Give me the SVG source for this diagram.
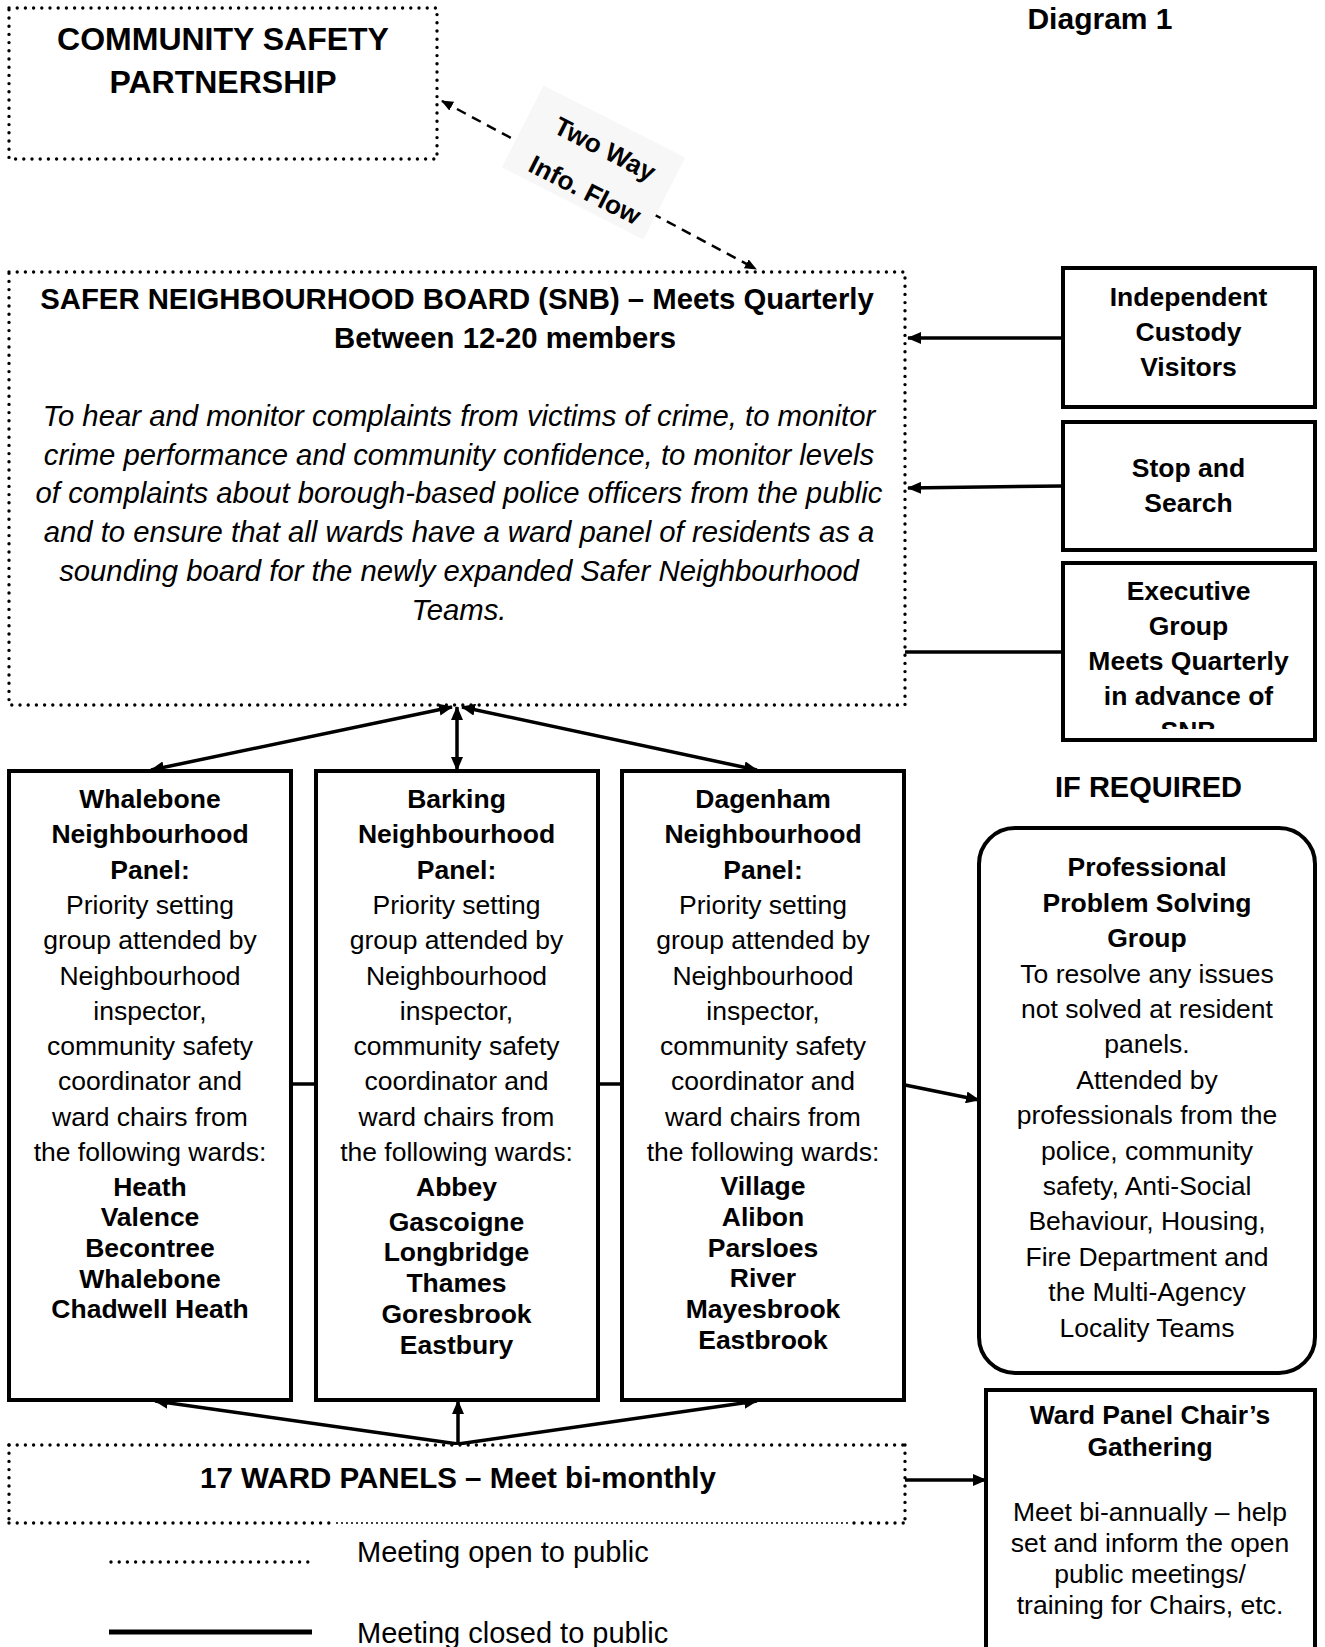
<svg xmlns="http://www.w3.org/2000/svg" width="1325" height="1647" viewBox="0 0 1325 1647">
<style>
.dot{fill:none;stroke:#000;stroke-width:3.4;stroke-linecap:round;stroke-dasharray:0 8.2}
.dotf{fill:none;stroke:#000;stroke-width:1.6;stroke-dasharray:2 3}
.box{fill:#fff;stroke:#000;stroke-width:4}
.bg{fill:#fff}
.conn{fill:none;stroke:#000;stroke-width:3.5}
.dash{fill:none;stroke:#000;stroke-width:2.5;stroke-dasharray:10 7}
text{font-family:"Liberation Sans",Arial,sans-serif;fill:#000}
.b{font-weight:bold}
.i{font-style:italic}
.p{font-size:26.5px;text-anchor:middle}
.h{font-size:29.3px;text-anchor:middle}
</style>
<defs>
<marker id="ah" viewBox="0 0 14 12" refX="13" refY="6" markerWidth="14" markerHeight="12" markerUnits="userSpaceOnUse" orient="auto-start-reverse">
<path d="M0,0 L14,6 L0,12 z" fill="#000"/>
</marker>
<marker id="ahs" viewBox="0 0 12 10" refX="11" refY="5" markerWidth="12" markerHeight="10" markerUnits="userSpaceOnUse" orient="auto-start-reverse">
<path d="M0,0 L12,5 L0,10 z" fill="#000"/>
</marker>
<clipPath id="execClip"><rect x="1063" y="563" width="252" height="166"/></clipPath>
</defs>
<rect width="1325" height="1647" fill="#fff"/>

<g id="connectors">
<line class="dash" x1="442" y1="101" x2="756" y2="269" marker-start="url(#ahs)" marker-end="url(#ahs)"/>
<line class="conn" x1="1063" y1="338" x2="908" y2="338" marker-end="url(#ah)"/>
<line class="conn" x1="1063" y1="486" x2="908" y2="488" marker-end="url(#ah)"/>
<line class="conn" x1="905" y1="652" x2="1063" y2="652"/>
<line class="conn" x1="452" y1="707" x2="151" y2="770" marker-start="url(#ah)" marker-end="url(#ah)"/>
<line class="conn" x1="457" y1="707" x2="457" y2="770" marker-start="url(#ah)" marker-end="url(#ah)"/>
<line class="conn" x1="462" y1="707" x2="757" y2="770" marker-start="url(#ah)" marker-end="url(#ah)"/>
<line class="conn" x1="291" y1="1084" x2="316" y2="1084"/>
<line class="conn" x1="597" y1="1084" x2="622" y2="1084"/>
<line class="conn" x1="905" y1="1085" x2="979" y2="1100" marker-end="url(#ah)"/>
<line class="conn" x1="458" y1="1444" x2="155" y2="1401" marker-end="url(#ah)"/>
<line class="conn" x1="458" y1="1444" x2="458" y2="1401" marker-end="url(#ah)"/>
<line class="conn" x1="458" y1="1444" x2="757" y2="1401" marker-end="url(#ah)"/>
<line class="conn" x1="905" y1="1480" x2="986" y2="1480" marker-end="url(#ah)"/>
</g>

<g id="flow-label">
<rect x="-79.5" y="-46" width="159" height="92" fill="#f7f7f7" transform="translate(593.5,162.5) rotate(27)"/>
<text class="b" font-size="26" text-anchor="middle" transform="translate(605,149) rotate(27)" y="9">Two Way</text>
<text class="b" font-size="26" text-anchor="middle" transform="translate(585,190) rotate(27)" y="9">Info. Flow</text>
</g>

<g id="diagram-title">
<text class="b" font-size="30" text-anchor="middle" x="1100" y="29">Diagram 1</text>
</g>

<g id="csp">
<rect class="dot" x="9" y="8" width="428" height="151"/>
<text class="b" font-size="32" text-anchor="middle" x="223" y="49.5">COMMUNITY SAFETY</text>
<text class="b" font-size="32" text-anchor="middle" x="223" y="92.5">PARTNERSHIP</text>
</g>

<g id="snb">
<rect class="dot" x="9" y="272" width="896" height="433"/>
<text class="b h" x="457" y="308.5">SAFER NEIGHBOURHOOD BOARD (SNB) – Meets Quarterly</text>
<text class="b h" x="505" y="347.5">Between 12-20 members</text>
<text class="i h" x="459" y="426">To hear and monitor complaints from victims of crime, to monitor</text>
<text class="i h" x="459" y="464.7">crime performance and community confidence, to monitor levels</text>
<text class="i h" x="459" y="503.4">of complaints about borough-based police officers from the public</text>
<text class="i h" x="459" y="542.1">and to ensure that all wards have a ward panel of residents as a</text>
<text class="i h" x="459" y="580.8">sounding board for the newly expanded Safer Neighbourhood</text>
<text class="i h" x="459" y="619.5">Teams.</text>
</g>

<g id="icv">
<rect class="box" x="1063" y="268" width="252" height="139"/>
<text class="b p" x="1188.5" y="305.5">Independent</text>
<text class="b p" x="1188.5" y="340.5">Custody</text>
<text class="b p" x="1188.5" y="375.5">Visitors</text>
</g>

<g id="stop-search">
<rect class="box" x="1063" y="422" width="252" height="128"/>
<text class="b p" x="1188.5" y="477">Stop and</text>
<text class="b p" x="1188.5" y="512">Search</text>
</g>

<g id="executive">
<rect class="box" x="1063" y="563" width="252" height="177"/>
<g clip-path="url(#execClip)">
<text class="b p" x="1188.5" y="599.5">Executive</text>
<text class="b p" x="1188.5" y="634.5">Group</text>
<text class="b p" x="1188.5" y="669.5">Meets Quarterly</text>
<text class="b p" x="1188.5" y="704.5">in advance of</text>
<text class="b p" x="1188.5" y="740">SNB</text>
</g>
</g>

<g id="whalebone">
<rect class="box" x="9" y="771" width="282" height="629"/>
<text class="b p" x="150" y="808">Whalebone</text>
<text class="b p" x="150" y="843.3">Neighbourhood</text>
<text class="b p" x="150" y="878.6">Panel:</text>
<text class="p" x="150" y="913.9">Priority setting</text>
<text class="p" x="150" y="949.2">group attended by</text>
<text class="p" x="150" y="984.5">Neighbourhood</text>
<text class="p" x="150" y="1019.8">inspector,</text>
<text class="p" x="150" y="1055.1">community safety</text>
<text class="p" x="150" y="1090.4">coordinator and</text>
<text class="p" x="150" y="1125.7">ward chairs from</text>
<text class="p" x="150" y="1161">the following wards:</text>
<text class="b p" x="150" y="1195.5">Heath</text>
<text class="b p" x="150" y="1226">Valence</text>
<text class="b p" x="150" y="1256.5">Becontree</text>
<text class="b p" x="150" y="1287.5">Whalebone</text>
<text class="b p" x="150" y="1318">Chadwell Heath</text>
</g>

<g id="barking">
<rect class="box" x="316" y="771" width="282" height="629"/>
<text class="b p" x="456.5" y="808">Barking</text>
<text class="b p" x="456.5" y="843.3">Neighbourhood</text>
<text class="b p" x="456.5" y="878.6">Panel:</text>
<text class="p" x="456.5" y="913.9">Priority setting</text>
<text class="p" x="456.5" y="949.2">group attended by</text>
<text class="p" x="456.5" y="984.5">Neighbourhood</text>
<text class="p" x="456.5" y="1019.8">inspector,</text>
<text class="p" x="456.5" y="1055.1">community safety</text>
<text class="p" x="456.5" y="1090.4">coordinator and</text>
<text class="p" x="456.5" y="1125.7">ward chairs from</text>
<text class="p" x="456.5" y="1161">the following wards:</text>
<text class="b p" x="456.5" y="1195.5">Abbey</text>
<text class="b p" x="456.5" y="1230.5">Gascoigne</text>
<text class="b p" x="456.5" y="1261">Longbridge</text>
<text class="b p" x="456.5" y="1291.5">Thames</text>
<text class="b p" x="456.5" y="1322.5">Goresbrook</text>
<text class="b p" x="456.5" y="1354">Eastbury</text>
</g>

<g id="dagenham">
<rect class="box" x="622" y="771" width="282" height="629"/>
<text class="b p" x="763" y="808">Dagenham</text>
<text class="b p" x="763" y="843.3">Neighbourhood</text>
<text class="b p" x="763" y="878.6">Panel:</text>
<text class="p" x="763" y="913.9">Priority setting</text>
<text class="p" x="763" y="949.2">group attended by</text>
<text class="p" x="763" y="984.5">Neighbourhood</text>
<text class="p" x="763" y="1019.8">inspector,</text>
<text class="p" x="763" y="1055.1">community safety</text>
<text class="p" x="763" y="1090.4">coordinator and</text>
<text class="p" x="763" y="1125.7">ward chairs from</text>
<text class="p" x="763" y="1161">the following wards:</text>
<text class="b p" x="763" y="1195">Village</text>
<text class="b p" x="763" y="1226">Alibon</text>
<text class="b p" x="763" y="1256.5">Parsloes</text>
<text class="b p" x="763" y="1287">River</text>
<text class="b p" x="763" y="1317.5">Mayesbrook</text>
<text class="b p" x="763" y="1349">Eastbrook</text>
</g>

<g id="if-required">
<text class="b" font-size="29" text-anchor="middle" x="1148.5" y="797">IF REQUIRED</text>
</g>

<g id="professional">
<rect class="box" x="979" y="828" width="336" height="545" rx="36" ry="36"/>
<text class="b p" x="1147" y="876.4">Professional</text>
<text class="b p" x="1147" y="911.8">Problem Solving</text>
<text class="b p" x="1147" y="947.2">Group</text>
<text class="p" x="1147" y="982.6">To resolve any issues</text>
<text class="p" x="1147" y="1018">not solved at resident</text>
<text class="p" x="1147" y="1053.4">panels.</text>
<text class="p" x="1147" y="1088.8">Attended by</text>
<text class="p" x="1147" y="1124.2">professionals from the</text>
<text class="p" x="1147" y="1159.6">police, community</text>
<text class="p" x="1147" y="1195">safety, Anti-Social</text>
<text class="p" x="1147" y="1230.4">Behaviour, Housing,</text>
<text class="p" x="1147" y="1265.8">Fire Department and</text>
<text class="p" x="1147" y="1301.2">the Multi-Agency</text>
<text class="p" x="1147" y="1336.6">Locality Teams</text>
</g>

<g id="ward-panels">
<rect class="bg" x="9" y="1445" width="896" height="78"/>
<line class="dot" x1="9" y1="1445" x2="905" y2="1445"/>
<line class="dot" x1="9" y1="1445" x2="9" y2="1523"/>
<line class="dot" x1="905" y1="1445" x2="905" y2="1523"/>
<line class="dot" x1="9" y1="1523" x2="333" y2="1523"/>
<line class="dotf" x1="336" y1="1523" x2="851" y2="1523"/>
<line class="dot" x1="854" y1="1523" x2="905" y2="1523"/>
<text class="b" font-size="29.5" text-anchor="middle" x="458" y="1488">17 WARD PANELS – Meet bi-monthly</text>
</g>

<g id="chairs-gathering">
<rect class="box" x="986" y="1390" width="329" height="270"/>
<text class="b p" x="1150" y="1424">Ward Panel Chair’s</text>
<text class="b p" x="1150" y="1456">Gathering</text>
<text class="p" x="1150" y="1521">Meet bi-annually – help</text>
<text class="p" x="1150" y="1552">set and inform the open</text>
<text class="p" x="1150" y="1583">public meetings/</text>
<text class="p" x="1150" y="1614">training for Chairs, etc.</text>
</g>

<g id="legend">
<line class="dot" x1="111" y1="1562" x2="309" y2="1562"/>
<text font-size="29" x="357" y="1562">Meeting open to public</text>
<line stroke="#000" stroke-width="5" x1="109" y1="1632" x2="312" y2="1632"/>
<text font-size="29" x="357" y="1643">Meeting closed to public</text>
</g>
</svg>
